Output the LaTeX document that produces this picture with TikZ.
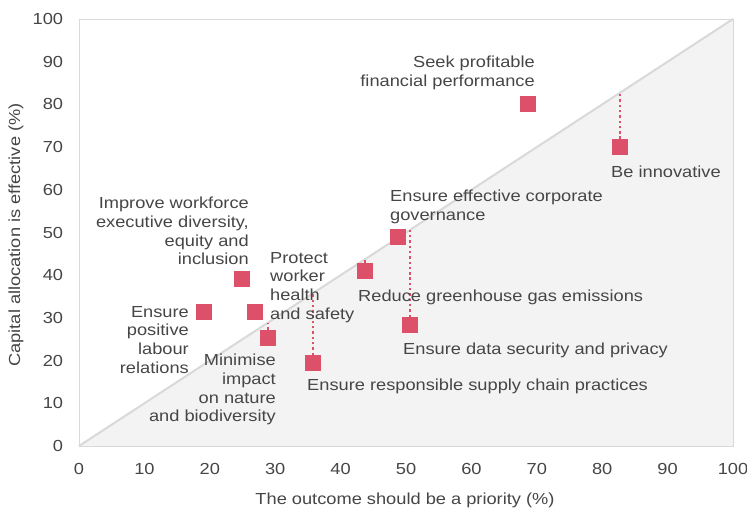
\documentclass[tikz,border=0pt]{standalone}
\usepackage{fontspec}
\setmainfont{Liberation Sans}[FakeStretch=1.14]
\definecolor{sqred}{RGB}{220,80,105}
\definecolor{txt}{RGB}{70,70,70}
\definecolor{frm}{RGB}{217,217,217}
\definecolor{shadegrey}{RGB}{243,243,243}
\begin{document}
\begin{tikzpicture}[x=1pt,y=1pt,
  every node/.style={font=\fontsize{16}{18.7}\selectfont, text=txt, inner sep=0pt},
  sq/.style={fill=sqred, minimum size=16pt, inner sep=0pt},
  dotline/.style={draw=sqred, line width=2.4pt, line cap=butt, dash pattern=on 2.4pt off 2.9pt},
  lblL/.style={anchor=north west, align=left},
  lblR/.style={anchor=north east, align=right}]
\useasboundingbox (0,0) rectangle (747,512);
\fill[white] (0,0) rectangle (747,512);
\begin{scope}[shift={(79,66)}, x=6.54pt, y=4.27pt]
  \fill[shadegrey] (0,0) -- (100,0) -- (100,100) -- cycle;
  \draw[frm, line width=0.8pt] (0,0) rectangle (100,100);
  \draw[frm, line width=2pt] (0,0) -- (100,100);
  % ticks
  \foreach \v in {0,10,...,100} {
    \node[anchor=east] (yt\v) at (-2.4,\v) {\v};
    \node (xt\v) at (\v,-5.4) {\v};
  }
  % diagonal targets
  \coordinate (dInno) at (82.7,82.7);
  \coordinate (dData) at (50.6,50.6);
  \coordinate (dGhg) at (43.7,43.7);
  \coordinate (dNat) at (28.9,28.9);
  \coordinate (dSup) at (35.8,35.8);
  % squares
  \node[sq] (seek) at (68.7,80) {};
  \node[sq] (inno) at (82.7,70) {};
  \node[sq] (gov) at (48.7,49) {};
  \node[sq] (ghg) at (43.7,41) {};
  \node[sq] (data) at (50.6,28.3) {};
  \node[sq] (div) at (24.9,39.1) {};
  \node[sq] (lab) at (19.1,31.4) {};
  \node[sq] (hs) at (26.9,31.4) {};
  \node[sq] (nat) at (28.9,25.3) {};
  \node[sq] (sup) at (35.8,19.4) {};
  % dotted gaps
  \draw[dotline] (inno.north) -- (dInno);
  \draw[dotline] (data.north) -- (dData);
  \draw[dotline] (ghg.north) -- (dGhg);
  \draw[dotline] (nat.north) -- (dNat);
  \draw[dotline] (sup.north) -- (dSup);
\end{scope}
% labels (pixel coordinates, y flipped)
\node[lblR] (Lseek) at (535,456) {Seek profitable\\financial performance};
\node[lblL] (Linno) at (611,346) {Be innovative};
\node[lblL] (Lgov) at (390,322) {Ensure effective corporate\\governance};
\node[lblL] (Lghg) at (358,222) {Reduce greenhouse gas emissions};
\node[lblL] (Ldata) at (403,169) {Ensure data security and privacy};
\node[lblL] (Lsup) at (307,133) {Ensure responsible supply chain practices};
\node[lblR] (Ldiv) at (249,315) {Improve workforce\\executive diversity,\\equity and\\inclusion};
\node[lblR] (Llab) at (189,206) {Ensure\\positive\\labour\\relations};
\node[lblL] (Lhs) at (270,260) {Protect\\worker\\health\\and safety};
\node[lblR] (Lnat) at (276,158) {Minimise\\impact\\on nature\\and biodiversity};
% axis titles
\node[rotate=90] (ytitle) at (16,277) {Capital allocation is effective (\%)};
\node (xtitle) at (405,12) {The outcome should be a priority (\%)};
\end{tikzpicture}
\end{document}
